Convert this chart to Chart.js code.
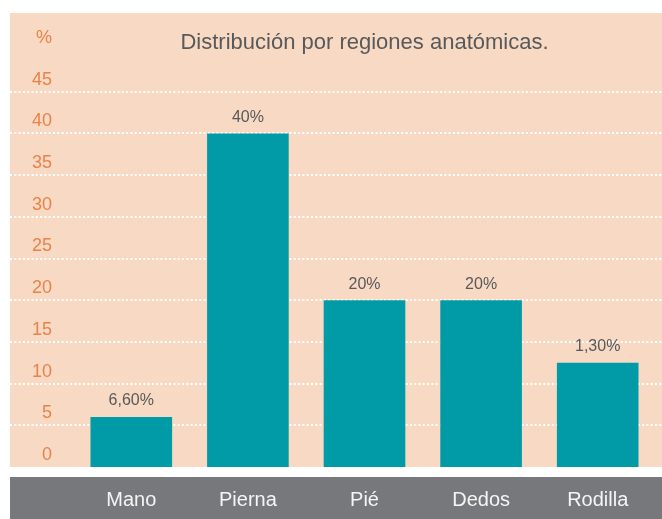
<!DOCTYPE html>
<html>
<head>
<meta charset="utf-8">
<script src="https://cdn.jsdelivr.net/npm/chart.js@4"></script>
<style>
  html, body { margin: 0; padding: 0; background: #fff; }
  #wrap { width: 662px; height: 519px; }
</style>
</head>
<body>
<div id="wrap"><canvas id="myChart" width="662" height="519"></canvas></div>
<script>
const regions = ['Mano', 'Pierna', 'Pié', 'Dedos', 'Rodilla'];
const values = [6, 40, 20, 20, 12.5];
const valueLabels = ['6,60%', '40%', '20%', '20%', '1,30%'];
const yTicks = [0, 5, 10, 15, 20, 25, 30, 35, 40, 45, 50];

const FONT = '"Liberation Sans Narrow", "Liberation Sans", sans-serif';

// peach panel + grey band under the chart
const background = {
  id: 'background',
  beforeDraw(chart) {
    const c = chart.ctx;
    const w = chart.width;
    const y0 = chart.scales.y.getPixelForValue(0);
    c.save();
    c.fillStyle = '#F8D9C3';
    c.fillRect(10, 13, w - 10, y0 - 13);
    c.fillStyle = '#77787B';
    c.fillRect(10, y0 + 10, w - 10, chart.height - y0 - 10);
    c.restore();
  }
};

// dotted white lines across the whole panel
const dottedGrid = {
  id: 'dottedGrid',
  beforeDatasetsDraw(chart) {
    const c = chart.ctx;
    const y = chart.scales.y;
    c.save();
    c.strokeStyle = '#ffffff';
    c.lineWidth = 2;
    c.setLineDash([2, 2.3]);
    yTicks.forEach(v => {
      if (v === 0 || v === 50) return;
      const py = Math.round(y.getPixelForValue(v));
      c.beginPath();
      c.moveTo(10, py);
      c.lineTo(chart.width, py);
      c.stroke();
    });
    c.restore();
  }
};

const barLabels = {
  id: 'barLabels',
  afterDatasetsDraw(chart) {
    const c = chart.ctx;
    const meta = chart.getDatasetMeta(0);
    c.save();
    c.fillStyle = '#58595B';
    c.font = '16px ' + FONT;
    c.textAlign = 'center';
    c.textBaseline = 'middle';
    meta.data.forEach((bar, i) => {
      c.fillText(valueLabels[i], bar.x, bar.y - 16);
    });
    c.restore();
  }
};

const ctx = document.getElementById('myChart');
new Chart(ctx, {
  type: 'bar',
  data: {
    labels: regions,
    datasets: [{
      data: values,
      backgroundColor: '#009BA6',
      borderWidth: 0,
      categoryPercentage: 0.7,
      barPercentage: 1
    }]
  },
  options: {
    responsive: false,
    animation: false,
    layout: { padding: { left: 0, right: 6, top: 0, bottom: 0 } },
    plugins: {
      legend: { display: false },
      tooltip: { enabled: false },
      title: {
        display: true,
        text: 'Distribución por regiones anatómicas.',
        fullSize: false,
        color: '#58595B',
        font: { family: FONT, size: 22, weight: 'normal', lineHeight: 1 },
        padding: { top: 32, bottom: -4 }
      }
    },
    scales: {
      x: {
        grid: { display: false, drawTicks: false },
        border: { display: false },
        ticks: {
          color: '#F5F5F5',
          font: { family: FONT, size: 20 },
          padding: 21
        },
        afterFit(s) { s.height = 52; }
      },
      y: {
        min: 0,
        max: 50,
        afterBuildTicks(s) { s.ticks = yTicks.map(v => ({ value: v })); },
        grid: { display: false, drawTicks: false },
        border: { display: false },
        ticks: {
          color: '#E8834A',
          font: { family: FONT, size: 18 },
          padding: 21,
          labelOffset: -12,
          callback: v => v === 50 ? '%' : v
        },
        afterFit(s) { s.width = 73; }
      }
    }
  },
  plugins: [background, dottedGrid, barLabels]
});
</script>
</body>
</html>
